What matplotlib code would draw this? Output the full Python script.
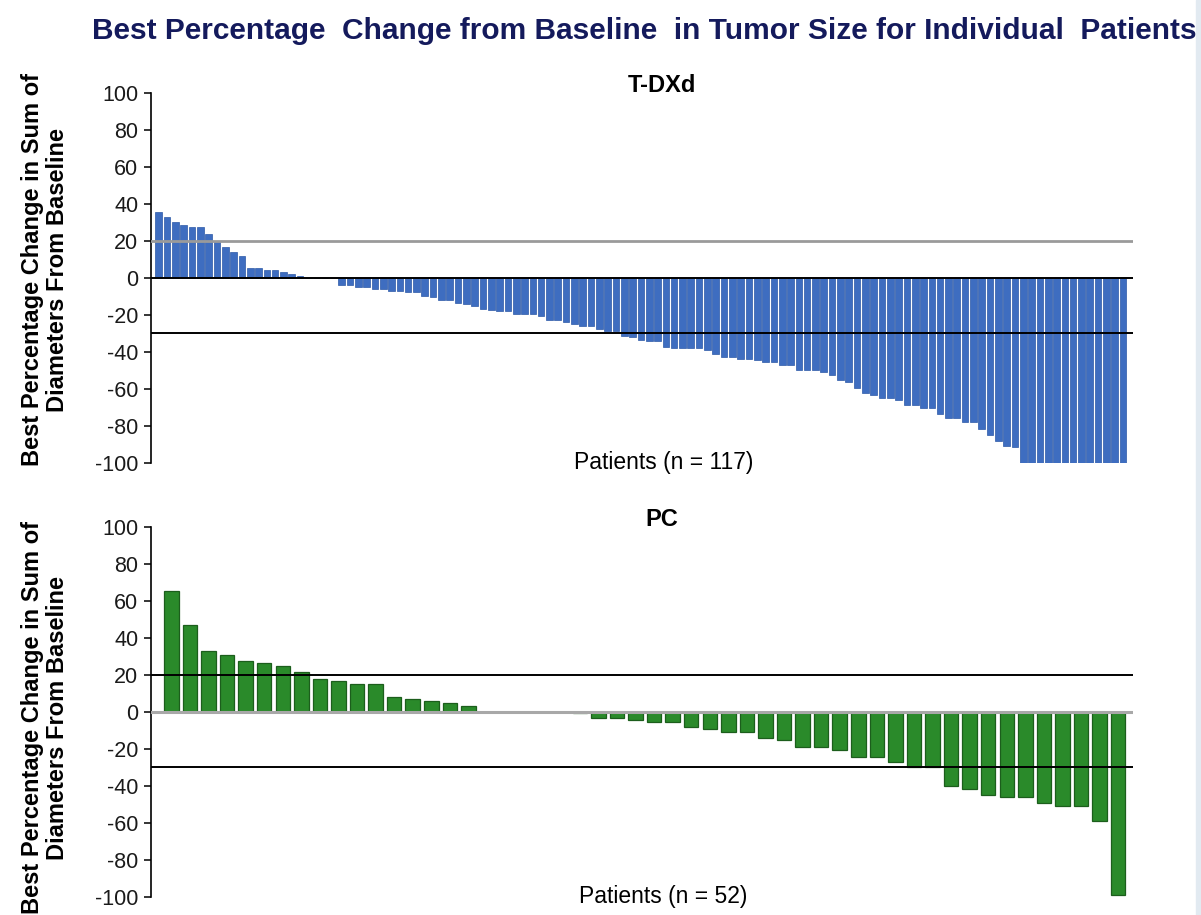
import matplotlib.pyplot as plt
import numpy as np

plt.rcParams['font.family'] = ['Liberation Sans', 'DejaVu Sans']
plt.rcParams['axes.unicode_minus'] = False

# best % change per patient, sorted
tdxd = [35.8, 33.1, 30.1, 28.8, 27.6, 27.6, 23.8, 19.6, 16.8, 13.9, 11.8, 5.3, 5.3, 4.2, 4.2, 3.4, 2.3, 1.1,
        0, 0, 0, 0,
        -3.6, -3.6, -4.9, -4.9, -5.8, -5.8, -6.8, -6.8, -7.6, -7.6, -9.7, -10.4, -11.7, -11.7, -13.3,
        -13.8, -14.9, -16.5, -17.1, -17.8, -17.8, -19.4, -19.4, -19.4, -20.7, -22.5, -22.8, -23.7,
        -24.8, -26.1, -26.1, -27.7, -28.8, -28.8, -31.4, -32.0, -33.3, -34.2, -34.2, -37.4, -38.1,
        -38.1, -38.1,
        -38.1, -38.7, -41.0, -42.8, -42.8, -43.7, -43.7, -44.6, -45.3, -45.3, -46.8, -46.8, -49.5,
        -49.5, -49.5, -50.7, -52.7, -55.2, -56.3, -59.4, -62.4, -63.5, -64.7, -64.7, -66.2, -68.7,
        -68.7, -70.1, -70.5, -73.7, -75.5, -75.5, -77.7, -77.7, -81.8, -84.9, -88.1, -90.8, -91.4,
        -100, -100, -100, -100, -100, -100, -100, -100, -100, -100, -100, -100, -100]
pc = [65.2, 46.8, 33.0, 30.7, 27.7, 26.4, 24.8, 21.6, 18.0, 16.8, 15.0, 15.0, 7.9, 6.8, 5.7, 4.8, 3.2,
      0, 0, 0, 0, 0, -0.5,
      -3.4, -3.4, -4.3, -5.2, -5.2, -8.1, -9.3, -11.1, -11.1, -14.2, -15.3, -19.2, -19.2, -20.6,
      -24.2, -24.2, -26.9, -30.0, -30.0, -39.9, -41.7, -44.9, -46.1, -46.1, -49.2, -50.6, -50.6,
      -59.2, -99.0]

yticks = list(range(-100, 101, 20))
ylabel = 'Best Percentage Change in Sum of\nDiameters From Baseline'

fig = plt.figure(figsize=(12.01, 9.15), dpi=100)

ax1 = fig.add_axes([0.1257, 0.494, 0.8177, 0.4044])
ax2 = fig.add_axes([0.1257, 0.0197, 0.8177, 0.4044])


def style(ax):
    ax.set_ylim(-100, 100)
    ax.set_yticks(yticks)
    ax.set_xticks([])
    for s in ['top', 'right', 'bottom']:
        ax.spines[s].set_visible(False)
    ax.spines['left'].set_linewidth(1.2)
    ax.tick_params(axis='y', direction='out', length=5, width=1.1, labelsize=15.5, pad=4,
                   labelcolor='#1a1a1a')


# T-DXd
x1 = np.arange(len(tdxd))
ax1.bar(x1, tdxd, width=0.8, color='#3e6dc0', edgecolor='#2c58a6', linewidth=0.5, zorder=2)
ax1.set_xlim(-0.94, len(tdxd) + 0.2)
style(ax1)
ax1.axhline(20, color='#9a9a9a', lw=2, zorder=3)
ax1.axhline(0, color='black', lw=1.4, zorder=3)
ax1.axhline(-30, color='black', lw=1.4, zorder=3)
ax1.text(0.52, 1.02, 'T-DXd', transform=ax1.transAxes, ha='center', va='center',
         fontsize=17, fontweight='bold')
ax1.text(0.522, 0.0, 'Patients (n = 117)', transform=ax1.transAxes, ha='center', va='center',
         fontsize=16.5)

# PC
x2 = np.arange(len(pc))
ax2.bar(x2, pc, width=0.78, color='#2a8a2a', edgecolor='#1c5e1c', linewidth=0.9, zorder=2)
ax2.set_xlim(-1.1, len(pc) - 0.2)
style(ax2)
ax2.axhline(20, color='black', lw=1.4, zorder=3)
ax2.axhline(0, color='#a8a8a8', lw=2.2, zorder=3)
ax2.axhline(-30, color='black', lw=1.4, zorder=3)
ax2.text(0.52, 1.02, 'PC', transform=ax2.transAxes, ha='center', va='center',
         fontsize=17, fontweight='bold')
ax2.text(0.522, 0.0, 'Patients (n = 52)', transform=ax2.transAxes, ha='center', va='center',
         fontsize=16.5)

# y labels (bottom one runs off the page like the source)
fig.text(45 / 1201, 1 - 270 / 915, ylabel, rotation=90, ha='center', va='center',
         multialignment='center', fontsize=17, fontweight='bold', linespacing=1.15)
fig.text(45 / 1201, 1 - 718 / 915, ylabel, rotation=90, ha='center', va='center',
         multialignment='center', fontsize=17, fontweight='bold', linespacing=1.15)

fig.text(92 / 1201, 1 - 31 / 915,
         'Best Percentage  Change from Baseline  in Tumor Size for Individual  Patients',
         ha='left', va='center', fontsize=21.5, fontweight='bold', color='#141a5c')

# pale strip at the right edge
fig.patches.append(plt.Rectangle((1196 / 1201, 0), 5 / 1201, 1, transform=fig.transFigure,
                                 color='#e2eaf1', zorder=10))

fig.savefig('out.png', dpi=100)
